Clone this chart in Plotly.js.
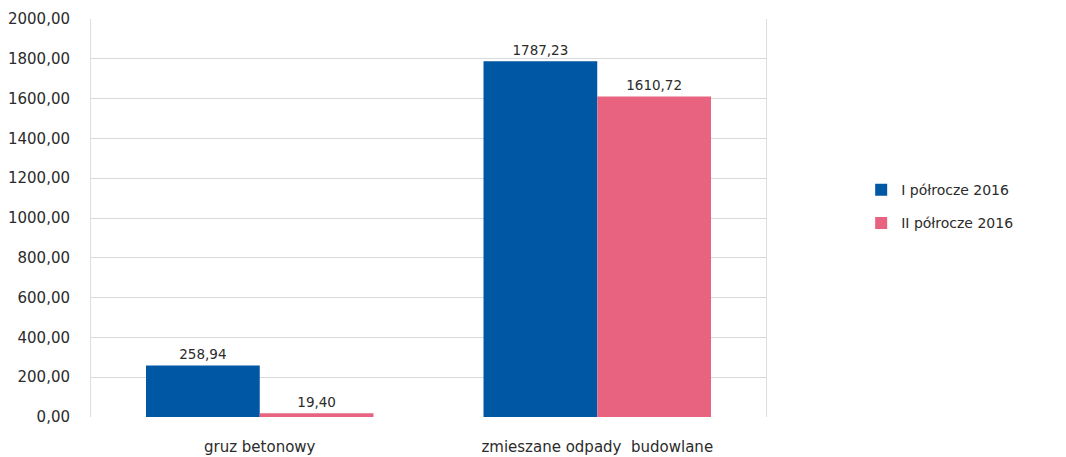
<!DOCTYPE html>
<html>
<head>
<meta charset="utf-8">
<script src="https://cdn.plot.ly/plotly-3.0.1.min.js"></script>
<style>html,body{margin:0;padding:0;background:#fff;}#chart{width:1066px;height:457px;}</style>
</head>
<body>
<div id="chart"></div>
<script>
const categories = ["gruz betonowy", "zmieszane odpady  budowlane"];
const seriesNames = ["I półrocze 2016", "II półrocze 2016"];
const valuesH1 = [258.94, 1787.23];
const valuesH2 = [19.40, 1610.72];
const yTicks = [0, 200, 400, 600, 800, 1000, 1200, 1400, 1600, 1800, 2000];

const colors = ["#0057a3", "#e8637f"];
const fontFam = "DejaVu Sans, Verdana, sans-serif";

const traces = [valuesH1, valuesH2].map((vals, i) => ({
  type: "bar",
  name: seriesNames[i],
  legendgroup: "g" + i,
  x: categories,
  y: vals,
  marker: {color: colors[i], line: {width: 0}},
  texttemplate: "%{y:.2f}",
  textposition: "outside",
  cliponaxis: false,
  textfont: {family: fontFam, size: 13.5, color: "#2b2b2b"},
  hoverinfo: "none"
}));

const layout = {
  width: 1066, height: 457,
  margin: {l: 91, r: 300, t: 19, b: 40},
  paper_bgcolor: "#ffffff",
  plot_bgcolor: "#ffffff",
  separators: ", ",
  barmode: "group",
  bargap: 0.326,
  bargroupgap: 0,
  font: {family: fontFam, size: 14, color: "#2b2b2b"},
  showlegend: true,
  legend: {
    x: 1.141, y: 0.61, xanchor: "left", yanchor: "top",
    font: {family: fontFam, size: 14, color: "#2b2b2b"},
    tracegroupgap: 12,
    bgcolor: "rgba(0,0,0,0)"
  },
  xaxis: {
    type: "category",
    range: [-0.5, 1.5],
    showgrid: false,
    zeroline: false,
    showline: false,
    ticks: "",
    ticklabelstandoff: 19,
    tickfont: {family: fontFam, size: 15, color: "#2b2b2b"}
  },
  yaxis: {
    range: [0, 2000],
    tickvals: yTicks,
    tickformat: ".2f",
    showgrid: true,
    gridcolor: "#d9d9d9",
    gridwidth: 1,
    zeroline: false,
    showline: true,
    mirror: true,
    linecolor: "#dedede",
    linewidth: 1,
    ticks: "",
    ticklabelstandoff: 17,
    tickfont: {family: fontFam, size: 15, color: "#2b2b2b"}
  }
};

Plotly.newPlot("chart", traces, layout, {displayModeBar: false, staticPlot: true});
</script>
</body>
</html>
